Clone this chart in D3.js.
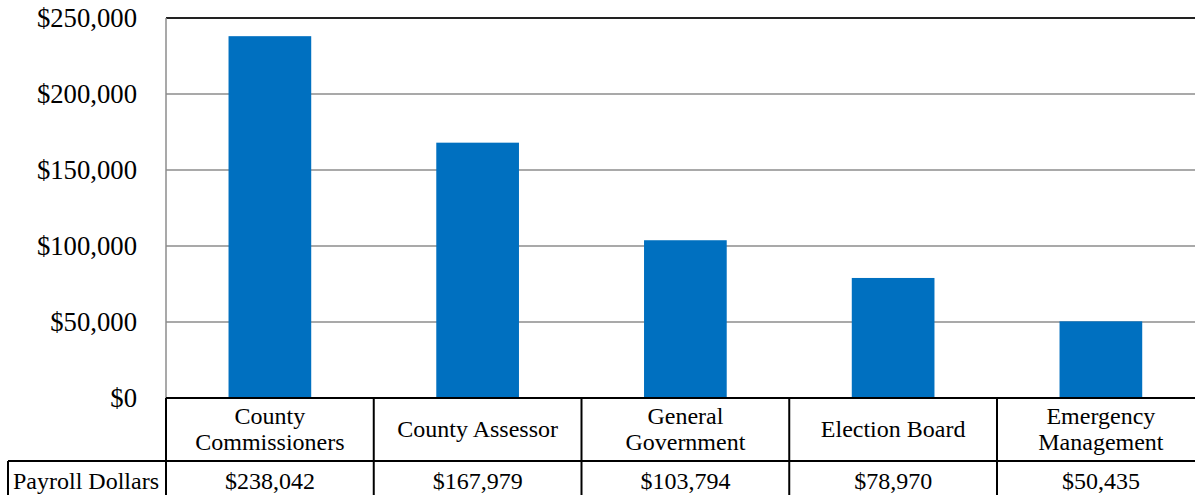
<!DOCTYPE html>
<html>
<head>
<meta charset="utf-8">
<script src="https://cdn.jsdelivr.net/npm/d3@7"></script>
<style>
  html, body { margin: 0; padding: 0; background: #fff; }
  svg { display: block; font-family: "Liberation Serif", "Times New Roman", serif; }
  .tick-label { font-size: 26.7px; fill: #000; }
  .table-text { font-size: 24px; fill: #000; }
</style>
</head>
<body>
<div id="chart"></div>
<script>
const CATEGORIES = [
  ["County", "Commissioners"],
  ["County Assessor"],
  ["General", "Government"],
  ["Election Board"],
  ["Emergency", "Management"],
];
const PAYROLL = [238042, 167979, 103794, 78970, 50435];
const SERIES_NAME = "Payroll Dollars";
const Y_TICKS = [0, 50000, 100000, 150000, 200000, 250000];

function renderChart() {
  const width = 1195;
  const height = 495;
  const plot = { left: 166, right: 1204.75, top: 18, bottom: 398 };
  const tableRowY = 461;
  const labelLeft = 8;

  const svg = d3.select("#chart").append("svg").attr("width", width).attr("height", height);
  const keys = CATEGORIES.map((c) => c.join(" "));

  const cols = d3.scaleBand().domain(keys).range([plot.left, plot.right]).padding(0);
  const x = d3
    .scaleBand()
    .domain(keys)
    .range([plot.left, plot.right])
    .paddingInner(0.602)
    .paddingOuter(0.301);
  const y = d3.scaleLinear().domain([0, 250000]).range([plot.bottom, plot.top]);
  const fmt = (v) => "$" + d3.format(",")(v);

  // gridlines
  svg
    .append("g")
    .selectAll("line")
    .data(Y_TICKS.filter((t) => t > 0))
    .join("line")
    .attr("x1", plot.left)
    .attr("x2", width)
    .attr("y1", (d) => y(d))
    .attr("y2", (d) => y(d))
    .attr("stroke", (d) => (d === 250000 ? "#222" : "#8c8c8c"))
    .attr("stroke-width", (d) => (d === 250000 ? 2 : 1.5));

  // y axis line
  svg
    .append("line")
    .attr("x1", plot.left)
    .attr("x2", plot.left)
    .attr("y1", plot.top)
    .attr("y2", plot.bottom)
    .attr("stroke", "#8c8c8c")
    .attr("stroke-width", 1.5);

  // y tick labels
  svg
    .append("g")
    .selectAll("text")
    .data(Y_TICKS)
    .join("text")
    .attr("class", "tick-label")
    .attr("x", 137)
    .attr("y", (d) => y(d))
    .attr("dy", "0.33em")
    .attr("text-anchor", "end")
    .text((d) => fmt(d));

  // bars
  svg
    .append("g")
    .selectAll("rect")
    .data(PAYROLL)
    .join("rect")
    .attr("x", (d, i) => x(keys[i]))
    .attr("width", x.bandwidth())
    .attr("y", (d) => y(d))
    .attr("height", (d) => y(0) - y(d))
    .attr("fill", "#0070C0");

  // data table
  const table = svg.append("g").attr("stroke", "#000").attr("stroke-width", 2);
  table.append("line").attr("x1", plot.left).attr("x2", width).attr("y1", plot.bottom).attr("y2", plot.bottom);
  table.append("line").attr("x1", labelLeft).attr("x2", width).attr("y1", tableRowY).attr("y2", tableRowY);
  table.append("line").attr("x1", labelLeft).attr("x2", labelLeft).attr("y1", tableRowY).attr("y2", height);
  table
    .selectAll("line.col")
    .data(keys)
    .join("line")
    .attr("class", "col")
    .attr("x1", (d) => cols(d))
    .attr("x2", (d) => cols(d))
    .attr("y1", plot.bottom)
    .attr("y2", height);

  const headers = svg
    .append("g")
    .selectAll("text")
    .data(CATEGORIES)
    .join("text")
    .attr("class", "table-text")
    .attr("text-anchor", "middle")
    .attr("transform", (d, i) => `translate(${cols(keys[i]) + cols.bandwidth() / 2}, ${(plot.bottom + tableRowY) / 2})`);

  headers
    .selectAll("tspan")
    .data((d) => d.map((line, j) => ({ line, j, n: d.length })))
    .join("tspan")
    .attr("x", 0)
    .attr("y", (d) => (d.j - (d.n - 1) / 2) * 26)
    .attr("dy", "0.33em")
    .text((d) => d.line);

  svg
    .append("g")
    .selectAll("text")
    .data(PAYROLL)
    .join("text")
    .attr("class", "table-text")
    .attr("text-anchor", "middle")
    .attr("x", (d, i) => cols(keys[i]) + cols.bandwidth() / 2)
    .attr("y", 481)
    .attr("dy", "0.33em")
    .text((d) => fmt(d));

  svg
    .append("text")
    .attr("class", "table-text")
    .attr("x", 13)
    .attr("y", 481)
    .attr("dy", "0.33em")
    .text(SERIES_NAME);
}

renderChart();
</script>
</body>
</html>
